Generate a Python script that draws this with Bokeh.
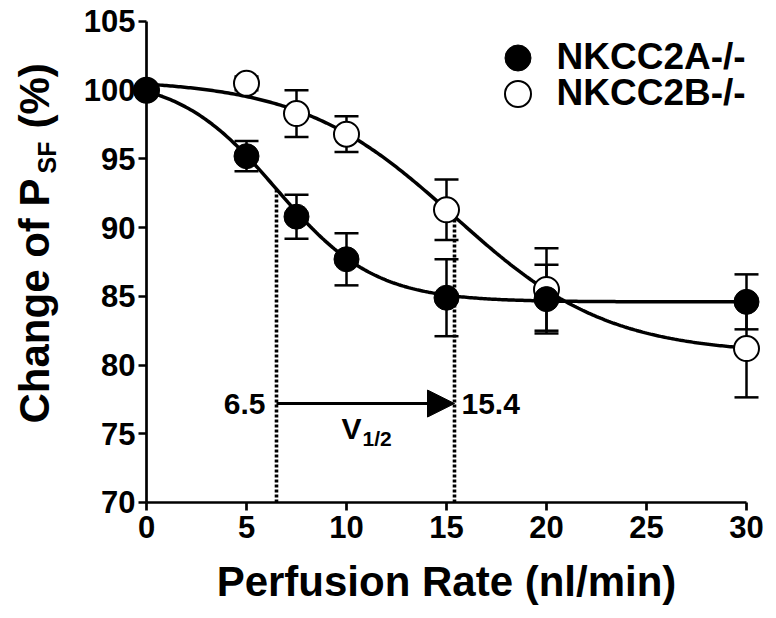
import numpy as np
from bokeh.plotting import figure
from bokeh.models import (ColumnDataSource, Whisker, TeeHead, Arrow, NormalHead,
                          Label, Legend, LegendItem, FixedTicker, Range1d)
from bokeh.embed import file_html
from bokeh.resources import INLINE

# ---------------- data ----------------
rate = [0, 5, 7.5, 10, 15, 20, 30]
a_mean = [100.0, 95.2, 90.8, 87.7, 84.9, 84.8, 84.6]   # NKCC2A-/-
a_sem = [0.0, 1.1, 1.6, 1.9, 2.8, 2.5, 2.0]
b_mean = [100.0, 100.5, 98.3, 96.8, 91.3, 85.5, 81.2]  # NKCC2B-/-
b_sem = [0.0, 0.5, 1.7, 1.3, 2.2, 3.0, 3.55]
x_ticks = [0, 5, 10, 15, 20, 25, 30]
y_ticks = [70, 75, 80, 85, 90, 95, 100, 105]

# sigmoidal fit parameters (V1/2 shown on the figure)
a_top, a_bottom, a_vhalf, a_slope = 101.0, 84.6, 6.5, 2.45
b_top, b_bottom, b_vhalf, b_slope = 100.8, 80.8, 15.4, 3.85

ARROW_Y = 77.2
FONT = "Liberation Sans"
W, H = 774, 614


def fit(x, top, bottom, vhalf, slope):
    return bottom + (top - bottom) / (1.0 + np.exp((x - vhalf) / slope))


# the frame covers the whole canvas; axes are placed at x=0 / y=70
p = figure(width=W, height=H, output_backend="svg", toolbar_location=None,
           x_range=Range1d(-7.3, 31.4), y_range=Range1d(61.850, 106.528),
           min_border_left=0, min_border_right=0, min_border_top=0,
           min_border_bottom=0)
p.outline_line_color = None
p.xgrid.visible = False
p.ygrid.visible = False

p.xaxis.ticker = FixedTicker(ticks=x_ticks)
p.yaxis.ticker = FixedTicker(ticks=y_ticks)
p.xaxis.bounds = (x_ticks[0], x_ticks[-1])
p.yaxis.bounds = (y_ticks[0], y_ticks[-1])
p.yaxis.fixed_location = x_ticks[0]
p.xaxis.fixed_location = y_ticks[0]
for ax in (p.xaxis, p.yaxis):
    ax.axis_line_width = 2.7
    ax.axis_line_color = "black"
    ax.major_tick_line_width = 2.7
    ax.major_tick_line_color = "black"
    ax.major_tick_out = 8
    ax.major_tick_in = 0
    ax.minor_tick_line_color = None
    ax.major_label_text_font = FONT
    ax.major_label_text_font_size = "31px"
    ax.major_label_text_font_style = "bold"
    ax.major_label_text_color = "black"
p.xaxis.major_label_standoff = 6
p.yaxis.major_label_standoff = 3

# error bars
for mean, sem in ((a_mean, a_sem), (b_mean, b_sem)):
    src = ColumnDataSource(dict(x=rate,
                                upper=[m + s for m, s in zip(mean, sem)],
                                lower=[m - s for m, s in zip(mean, sem)]))
    p.add_layout(Whisker(source=src, base="x", upper="upper", lower="lower",
                         line_width=2.5, line_color="black", level="underlay",
                         upper_head=TeeHead(size=24, line_width=2.5, line_color="black"),
                         lower_head=TeeHead(size=24, line_width=2.5, line_color="black")))

# fitted curves
xs = np.linspace(x_ticks[0], x_ticks[-1], 301)
p.line(xs, fit(xs, a_top, a_bottom, a_vhalf, a_slope), line_width=3.5, line_color="black")
p.line(xs, fit(xs, b_top, b_bottom, b_vhalf, b_slope), line_width=3.5, line_color="black")

# V1/2 dotted drop lines
p.segment(x0=[a_vhalf, b_vhalf], y0=[y_ticks[0]] * 2, x1=[a_vhalf, b_vhalf],
          y1=[(a_top + a_bottom) / 2, (b_top + b_bottom) / 2],
          line_width=3.6, line_color="black", line_dash="3 2")

# markers
rb = p.scatter(rate, b_mean, marker="circle", size=25, fill_color="white",
               line_color="black", line_width=2)
ra = p.scatter(rate, a_mean, marker="circle", size=25, fill_color="black",
               line_color="black", line_width=1)

legend_style = dict(glyph_width=65, glyph_height=65, padding=0, margin=0,
                    border_line_color=None, background_fill_alpha=0,
                    label_standoff=7, label_text_font=FONT,
                    label_text_font_style="bold", label_text_font_size="37px",
                    label_text_color="black")
p.add_layout(Legend(items=[LegendItem(label="NKCC2A-/-", renderers=[ra])],
                    location=(484.5, 524.5), **legend_style))
p.add_layout(Legend(items=[LegendItem(label="NKCC2B-/-", renderers=[rb])],
                    location=(484.5, 488.5), **legend_style))

# arrow and V1/2 annotation
p.add_layout(Arrow(x_start=a_vhalf, y_start=ARROW_Y, x_end=b_vhalf, y_end=ARROW_Y,
                   line_width=3, line_color="black",
                   end=NormalHead(size=27, fill_color="black", line_color="black")))
lab = dict(text_font=FONT, text_font_style="bold", text_color="black",
           text_baseline="middle")
p.add_layout(Label(x=a_vhalf, y=ARROW_Y, text=f"{a_vhalf}", x_offset=-11,
                   text_align="right", text_font_size="30px", **lab))
p.add_layout(Label(x=b_vhalf, y=ARROW_Y, text=f"{b_vhalf}", x_offset=7,
                   text_align="left", text_font_size="30px", **lab))
mid = (a_vhalf + b_vhalf) / 2
p.add_layout(Label(x=mid, y=75.42, text="V", x_offset=-4, text_align="right",
                   text_font_size="30px", **lab))
p.add_layout(Label(x=mid, y=74.66, text="1/2", x_offset=-3, text_align="left",
                   text_font_size="21px", **lab))

# axis titles (screen units measured from the canvas bottom-left)
p.add_layout(Label(x=(x_ticks[0] + x_ticks[-1]) / 2, x_units="data", y=H - 581,
                   y_units="screen", text="Perfusion Rate (nl/min)",
                   text_align="center", text_font_size="42px", **lab))
rot = np.pi / 2
p.add_layout(Label(x=34, y=H - 423, x_units="screen", y_units="screen", angle=rot,
                   text="Change of P", text_align="left", text_font_size="42px", **lab))
p.add_layout(Label(x=46, y=H - 173, x_units="screen", y_units="screen", angle=rot,
                   text="SF", text_align="left", text_font_size="25px", **lab))
p.add_layout(Label(x=34, y=H - 128, x_units="screen", y_units="screen", angle=rot,
                   text="(%)", text_align="left", text_font_size="42px", **lab))

open("out.html", "w").write(file_html(p, INLINE))
